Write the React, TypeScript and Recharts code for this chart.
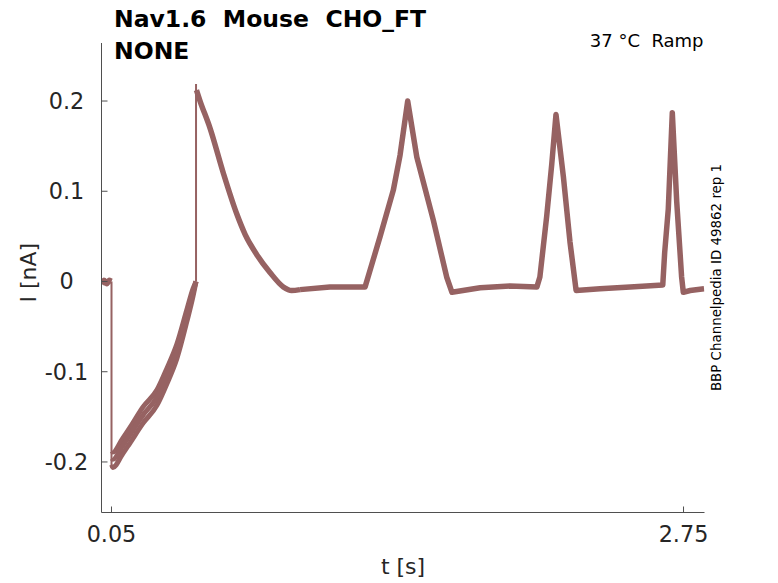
import React from 'react';
import { LineChart, Line, XAxis, YAxis } from 'recharts';

// ---- data (t in s, I in nA) ----
const PRE_T = [0.004, 0.015, 0.028, 0.04, 0.05];
const PRE_I = [-0.003, 0.001, -0.002, 0.001, 0.0];

const DROP_T = [0.05, 0.05];
const DROP_I = [0.0, -0.207];

const RAMP_T = [0.051, 0.057, 0.1, 0.137, 0.199, 0.265, 0.312, 0.359, 0.406, 0.435, 0.449];
const RAMP_MID = [-0.196, -0.197, -0.183, -0.17, -0.148, -0.128, -0.104, -0.076, -0.037, -0.012, 0.0];
const RAMP_UP = [-0.188, -0.189, -0.175, -0.162, -0.139, -0.12, -0.096, -0.069, -0.031, -0.008, 0.0];
const RAMP_LO = [-0.203, -0.206, -0.192, -0.179, -0.157, -0.137, -0.113, -0.085, -0.044, -0.016, 0.0];

const JUMP_T = [0.449, 0.449];
const JUMP_I = [0.0, 0.219];

const DECAY_T = [0.451, 0.468, 0.515, 0.578, 0.641, 0.681, 0.735, 0.798, 0.861, 0.9, 0.94];
const DECAY_I = [0.212, 0.2, 0.17, 0.12, 0.075, 0.052, 0.03, 0.01, -0.006, -0.01, -0.009];

const MAIN_T = [
  0.94, 1.081, 1.247, 1.318, 1.38, 1.412, 1.448, 1.491, 1.569, 1.632,
  1.657, 1.79, 1.931, 2.058, 2.072, 2.104, 2.128, 2.148, 2.183, 2.214,
  2.243, 2.356, 2.498, 2.652, 2.661, 2.678, 2.697, 2.718, 2.741, 2.749,
  2.781, 2.847,
];
const MAIN_I = [
  -0.009, -0.006, -0.006, 0.05, 0.101, 0.14, 0.2, 0.138, 0.068, 0.005,
  -0.012, -0.007, -0.005, -0.006, 0.005, 0.072, 0.13, 0.185, 0.116, 0.044,
  -0.01, -0.008, -0.006, -0.004, 0.032, 0.08, 0.187, 0.088, 0.005, -0.012,
  -0.01, -0.008,
];

const X_TICKS = [0.05, 2.75];
const X_TICK_LABELS = ['0.05', '2.75'];
const Y_TICKS = [-0.2, -0.1, 0, 0.1, 0.2];
const Y_TICK_LABELS = ['-0.2', '-0.1', '0', '0.1', '0.2'];

const X_DOMAIN: [number, number] = [0.0028, 2.849];
const Y_DOMAIN: [number, number] = [-0.256, 0.2643];

const zip = (ts: number[], vs: number[]) => ts.map((t, k) => ({ t, i: vs[k] }));

const preData = zip(PRE_T, PRE_I);
const dropData = zip(DROP_T, DROP_I);
const rampMid = zip(RAMP_T, RAMP_MID);
const rampUp = zip(RAMP_T, RAMP_UP);
const rampLo = zip(RAMP_T, RAMP_LO);
const jumpData = zip(JUMP_T, JUMP_I);
const decayData = zip(DECAY_T, DECAY_I);
const mainData = zip(MAIN_T, MAIN_I);

// ---- style ----
const W = 778;
const H = 583;
const FONT = '"DejaVu Sans", "Liberation Sans", sans-serif';
const TEXT = '#262626';
const AXIS = '#4f4f4f';
const TRACE = '#966262';

function XTick(props: any) {
  const { x, y, payload } = props;
  const idx = X_TICKS.indexOf(payload.value);
  return (
    <text x={x} y={y + 29.8} textAnchor="middle" fontFamily={FONT} fontSize={22.3} fill={TEXT}>
      {idx >= 0 ? X_TICK_LABELS[idx] : String(payload.value)}
    </text>
  );
}

function YTick(props: any) {
  const { x, y, payload } = props;
  const idx = Y_TICKS.findIndex((v) => Math.abs(v - payload.value) < 1e-9);
  return (
    <text x={x - 35} y={y + 7.8} textAnchor="middle" fontFamily={FONT} fontSize={22.3} fill={TEXT}>
      {idx >= 0 ? Y_TICK_LABELS[idx] : String(payload.value)}
    </text>
  );
}

const lineCommon = {
  dataKey: 'i',
  dot: false,
  activeDot: false,
  isAnimationActive: false,
  stroke: TRACE,
  strokeLinejoin: 'round' as const,
  strokeLinecap: 'butt' as const,
};

export default function App() {
  return (
    <div style={{ position: 'absolute', left: 0, top: 0, width: W, height: H, background: '#fff' }}>
      <LineChart width={W} height={H} margin={{ top: 43, right: 73.5, left: 0, bottom: 0 }}>
        <XAxis
          type="number"
          dataKey="t"
          domain={X_DOMAIN}
          allowDataOverflow
          ticks={X_TICKS}
          interval={0}
          tickSize={-6}
          tickMargin={6}
          tick={<XTick />}
          tickLine={{ stroke: AXIS }}
          axisLine={{ stroke: AXIS }}
          height={70.5}
        />
        <YAxis
          type="number"
          domain={Y_DOMAIN}
          allowDataOverflow
          ticks={Y_TICKS}
          interval={0}
          tickSize={-6}
          tickMargin={6}
          tick={<YTick />}
          tickLine={{ stroke: AXIS }}
          axisLine={{ stroke: AXIS }}
          width={101.5}
        />
        <Line {...lineCommon} type="linear" data={preData} strokeWidth={6} />
        <Line {...lineCommon} type="linear" data={dropData} strokeWidth={2} />
        <Line {...lineCommon} type="monotone" data={rampUp} strokeWidth={5} />
        <Line {...lineCommon} type="monotone" data={rampLo} strokeWidth={5} />
        <Line {...lineCommon} type="monotone" data={rampMid} strokeWidth={5} />
        <Line {...lineCommon} type="linear" data={jumpData} strokeWidth={2} />
        <Line {...lineCommon} type="monotone" data={decayData} strokeWidth={5.5} />
        <Line {...lineCommon} type="linear" data={mainData} strokeWidth={5.5} />
      </LineChart>
      <svg
        width={W}
        height={H}
        style={{ position: 'absolute', left: 0, top: 0, pointerEvents: 'none' }}
      >
        <text x={114} y={26.5} fontFamily={FONT} fontWeight="bold" fontSize={23.5} fill="#000" style={{ whiteSpace: 'pre' }}>
          {'Nav1.6  Mouse  CHO_FT'}
        </text>
        <text x={114} y={58.5} fontFamily={FONT} fontWeight="bold" fontSize={23.5} fill="#000">
          NONE
        </text>
        <text x={703.5} y={47.3} textAnchor="end" fontFamily={FONT} fontSize={18} fill="#000" style={{ whiteSpace: 'pre' }}>
          {'37 °C  Ramp'}
        </text>
        <text
          x={0}
          y={0}
          transform="translate(721,277.5) rotate(-90)"
          textAnchor="middle"
          fontFamily={FONT}
          fontSize={13.4}
          fill="#000"
        >
          BBP Channelpedia ID 49862 rep 1
        </text>
        <text
          x={0}
          y={0}
          transform="translate(36.4,272.7) rotate(-90)"
          textAnchor="middle"
          fontFamily={FONT}
          fontSize={22}
          fill={TEXT}
        >
          I [nA]
        </text>
        <text x={403} y={574} textAnchor="middle" fontFamily={FONT} fontSize={22} fill={TEXT}>
          t [s]
        </text>
      </svg>
    </div>
  );
}
